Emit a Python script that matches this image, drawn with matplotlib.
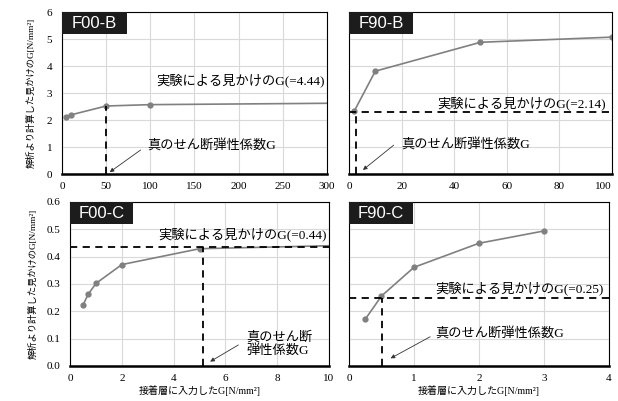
import matplotlib.pyplot as plt
from matplotlib.patches import Rectangle

plt.rcParams['font.family'] = ['Liberation Serif', 'Noto Sans CJK JP']

# F00-B
b00_x = [5, 10, 50, 100, 300]
b00_y = [2.13, 2.19, 2.52, 2.57, 2.62]
# F90-B
b90_x = [2, 10, 50, 100]
b90_y = [2.33, 3.81, 4.88, 5.07]
# F00-C
c00_x = [0.5, 0.7, 1, 2, 5, 10]
c00_y = [0.223, 0.262, 0.302, 0.371, 0.429, 0.44]
# F90-C
c90_x = [0.25, 0.5, 1, 2, 3]
c90_y = [0.171, 0.256, 0.361, 0.449, 0.494]

ylabel = '解析より計算した見かけのG[N/mm²]'
xlabel = '接着層に入力したG[N/mm²]'
true_txt = '真のせん断弾性係数G'

fig = plt.figure(figsize=(6.18, 4.01), dpi=100)
ax1 = fig.add_axes([0.1003, 0.566, 0.4288, 0.404])
ax2 = fig.add_axes([0.5647, 0.566, 0.4256, 0.404])
ax3 = fig.add_axes([0.1133, 0.0873, 0.4191, 0.409])
ax4 = fig.add_axes([0.5647, 0.0873, 0.4207, 0.409])

grey = '#808080'


def style(ax, name, xlim, xt, ylim, yt, ylabels):
    ax.set_xlim(*xlim)
    ax.set_ylim(*ylim)
    ax.set_xticks(xt)
    ax.set_yticks(yt)
    if not ylabels:
        ax.set_yticklabels([])
    ax.grid(True, color='#d9d9d9', lw=0.8)
    ax.set_axisbelow(True)
    ax.tick_params(length=0, labelsize=8, pad=6)
    ax.tick_params(axis='y', pad=7)
    for s in ax.spines.values():
        s.set_color('black')
        s.set_linewidth(0.8)
    ax.spines['bottom'].set_linewidth(1.8)
    ax.add_patch(Rectangle((0, 1 - 0.136), 0.245, 0.136, transform=ax.transAxes,
                           facecolor='#1c1c1c', edgecolor='none', zorder=5, clip_on=False))
    ax.text(0.1225, 1 - 0.068, name, transform=ax.transAxes, ha='center', va='center',
            color='white', fontsize=12, family='Liberation Sans', zorder=6)


def arrow(ax, xy, xytext):
    ax.annotate('', xy=xy, xytext=xytext,
                arrowprops=dict(arrowstyle='-|>', color='#333333', lw=0.6,
                                mutation_scale=6, shrinkA=0, shrinkB=0))


# F00-B
style(ax1, 'F00-B', (0, 300), range(0, 301, 50), (0, 6), range(0, 7), True)
ax1.plot(b00_x, b00_y, '-', color=grey, lw=1.2, marker='o', ms=3.5, markevery=[0, 1, 2, 3])
ax1.plot([50, 50], [0, 2.52], '--', color='black', lw=1.3, dashes=(4, 3))
ax1.text(107, 3.48, '実験による見かけのG(=4.44)', fontsize=9.5, va='center')
ax1.text(96, 1.04, true_txt, fontsize=9.5, va='center')
arrow(ax1, (54, 0.07), (89, 0.89))
ax1.set_ylabel(ylabel, fontsize=6.7, labelpad=8)

# F90-B
style(ax2, 'F90-B', (0, 100), range(0, 101, 20), (0, 6), range(0, 7), False)
ax2.plot(b90_x, b90_y, '-', color=grey, lw=1.2, marker='o', ms=3.5)
ax2.plot([0, 100], [2.3, 2.3], '--', color='black', lw=1.3, dashes=(4, 3))
ax2.plot([2.5, 2.5], [0, 2.3], '--', color='black', lw=1.3, dashes=(4, 3))
ax2.text(33.5, 2.63, '実験による見かけのG(=2.14)', fontsize=9.5, va='center')
ax2.text(20, 1.07, true_txt, fontsize=9.5, va='center')
arrow(ax2, (5.3, 0.15), (17, 1.07))
ax2.get_xticklabels()[-1].set_horizontalalignment('right')

# F00-C
style(ax3, 'F00-C', (0, 10), range(0, 11, 2), (0, 0.6), [0, 0.1, 0.2, 0.3, 0.4, 0.5, 0.6], True)
ax3.set_yticklabels(['0.0', '0.1', '0.2', '0.3', '0.4', '0.5', '0.6'])
ax3.plot(c00_x, c00_y, '-', color=grey, lw=1.2, marker='o', ms=3.5, markevery=[0, 1, 2, 3, 4])
ax3.plot([0, 10], [0.436, 0.436], '--', color='black', lw=1.3, dashes=(4, 3))
ax3.plot([5.15, 5.15], [0, 0.436], '--', color='black', lw=1.3, dashes=(4, 3))
ax3.text(3.41, 0.482, '実験による見かけのG(=0.44)', fontsize=9.5, va='center')
ax3.text(6.8, 0.08, '真のせん断\n弾性係数G', fontsize=9.5, va='center', linespacing=1.1)
arrow(ax3, (5.41, 0.016), (6.5, 0.077))
ax3.set_ylabel(ylabel, fontsize=6.7, labelpad=6)
ax3.set_xlabel(xlabel, fontsize=7.2, labelpad=1)

# F90-C
style(ax4, 'F90-C', (0, 4), range(0, 5), (0, 0.6), [0, 0.1, 0.2, 0.3, 0.4, 0.5, 0.6], False)
ax4.plot(c90_x, c90_y, '-', color=grey, lw=1.2, marker='o', ms=3.5)
ax4.plot([0, 4], [0.25, 0.25], '--', color='black', lw=1.3, dashes=(4, 3))
ax4.plot([0.503, 0.503], [0, 0.25], '--', color='black', lw=1.3, dashes=(4, 3))
ax4.text(1.32, 0.283, '実験による見かけのG(=0.25)', fontsize=9.5, va='center')
ax4.text(1.32, 0.117, true_txt, fontsize=9.5, va='center')
arrow(ax4, (0.64, 0.028), (1.25, 0.107))
ax4.set_xlabel(xlabel, fontsize=7.2, labelpad=1)

fig.savefig('out.png', dpi=100)
